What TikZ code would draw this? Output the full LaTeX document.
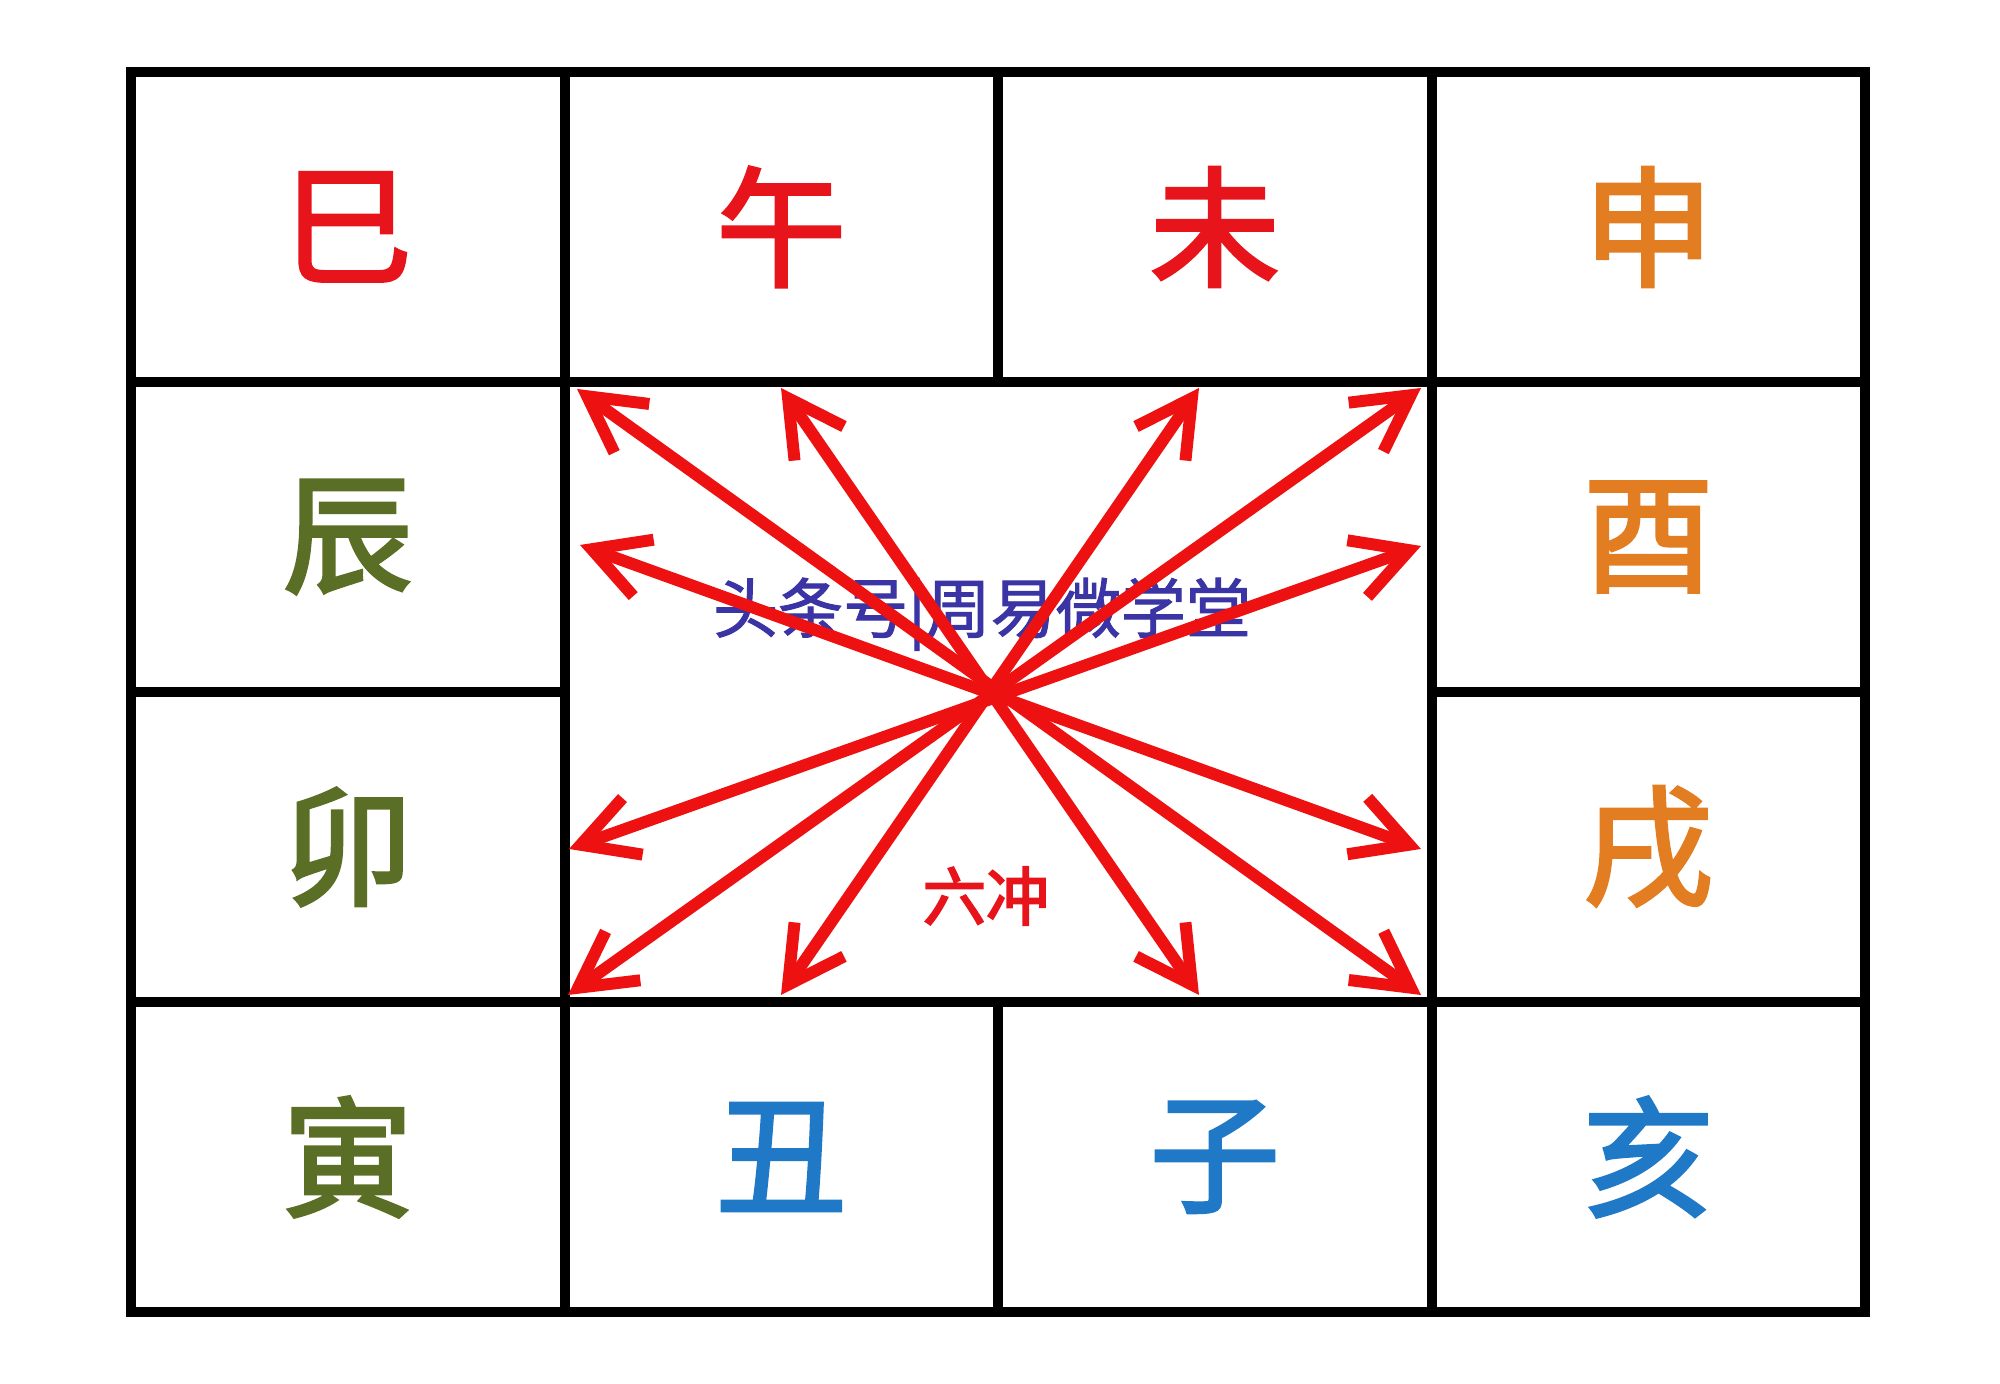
\documentclass[tikz,border=0pt]{standalone}
\usepackage{fontspec}
\setmainfont{Noto Sans CJK SC}
\newfontfamily\branchfont[FakeBold=2.5]{Noto Sans CJK SC}
\newfontfamily\notefont[FakeBold=1.5]{Noto Sans CJK SC}
\newfontfamily\clashfont[FakeBold=3]{Noto Sans CJK SC}
\usepackage{tikz}
\usetikzlibrary{arrows.meta, positioning}
\definecolor{firered}{HTML}{E8141C}
\definecolor{metalorange}{HTML}{E37D22}
\definecolor{woodgreen}{HTML}{5A6E25}
\definecolor{waterblue}{HTML}{2079C7}
\definecolor{clashred}{HTML}{EE1111}
\definecolor{markblue}{HTML}{3A34A4}

\begin{document}
\begin{tikzpicture}[
  node distance=0pt,
  every node/.style={font=\branchfont\fontsize{37}{40}\selectfont},
  cell/.style={draw=black, line width=1mm, minimum width=4.335cm,
               minimum height=3.10cm, inner sep=0pt, outer sep=0pt},
  fire/.style={cell, text=firered},
  metal/.style={cell, text=metalorange},
  wood/.style={cell, text=woodgreen},
  water/.style={cell, text=waterblue},
  small/.style={font=\notefont\fontsize{18}{20}\selectfont},
  clash/.style={{Straight Barb[length=5.5mm, width=6mm]}-{Straight Barb[length=5.5mm, width=6mm]},
                draw=clashred, line width=3.4pt}
]
\useasboundingbox (0,0) rectangle (20,13.84);

% Top row
\node[fire] (si) at (3.4775,11.57) {巳};
\node[fire, right=of si] (wu) {午};
\node[fire, right=of wu] (wei) {未};
\node[metal, right=of wei] (shen) {申};

% Right column
\node[metal, below=of shen] (you) {酉};
\node[metal, below=of you] (xu) {戌};

% Bottom row
\node[water, below=of xu] (hai) {亥};
\node[water, left=of hai] (zi) {子};
\node[water, left=of zi] (chou) {丑};
\node[wood, left=of chou] (yin) {寅};

% Left column
\node[wood, above=of yin] (mao) {卯};
\node[wood, above=of mao] (chen) {辰};

% Middle field
\node[cell, minimum width=8.67cm, minimum height=6.20cm, below right=of si] (hub) {};
\node[small, text=markblue, font=\notefont\fontsize{18.5}{20}\selectfont] (mark) at (9.82,7.70) {头条号|周易微学堂};
\node[text=firered, font=\clashfont\fontsize{18}{20}\selectfont] (liuchong) at (9.86,4.88) {六冲};

% Arrow ends
\coordinate (tl) at (5.77,9.95);
\coordinate (t2) at (7.81,9.96);
\coordinate (t3) at (11.99,9.96);
\coordinate (tr) at (14.21,9.96);
\coordinate (lu) at (5.80,8.39);
\coordinate (ru) at (14.21,8.38);
\coordinate (ll) at (5.69,5.35);
\coordinate (rl) at (14.21,5.35);
\coordinate (bl) at (5.68,3.89);
\coordinate (b2) at (7.81,3.89);
\coordinate (b3) at (11.99,3.89);
\coordinate (br) at (14.21,3.89);

% Six clashes
\draw[clash] (tl) -- (br);
\draw[clash] (t2) -- (b3);
\draw[clash] (t3) -- (b2);
\draw[clash] (tr) -- (bl);
\draw[clash] (lu) -- (rl);
\draw[clash] (ll) -- (ru);

\end{tikzpicture}
\end{document}
